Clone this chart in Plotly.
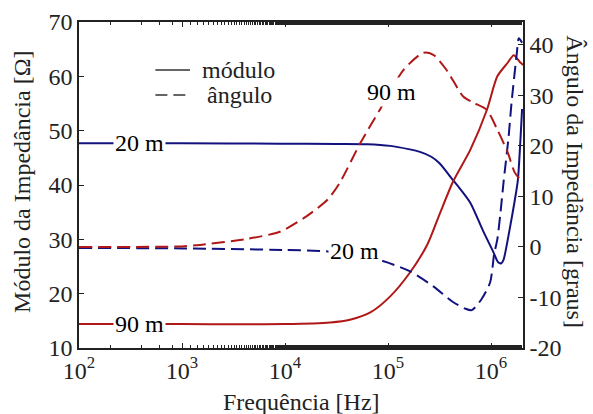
import plotly.graph_objects as go

# Impedance of the two cable lengths (20 m and 90 m) versus frequency

# 20 m cable, magnitude [ohm]
freq_mod_20 = [1e2, 1e3, 8.9e3, 3.16e4, 6.3e4, 1.05e5, 1.58e5, 2.04e5, 2.63e5, 3.16e5,
               4.27e5, 5.0e5, 6.3e5, 8.3e5, 1.05e6, 1.17e6, 1.26e6, 1.32e6, 1.51e6,
               1.70e6, 1.82e6, 1.95e6, 2.0e6]
mod_20 = [47.7, 47.7, 47.6, 47.55, 47.5, 47.2, 46.6, 46.1, 45.2, 44.0,
          40.9, 39.3, 36.7, 31.7, 27.7, 25.8, 25.6, 26.2, 31.7,
          37.2, 40.9, 50.0, 54.0]

# 90 m cable, magnitude [ohm]
freq_mod_90 = [1e2, 1e3, 1e4, 2.75e4, 4.27e4, 6.8e4, 1.05e5, 1.62e5, 2.4e5, 3.16e5,
               4.27e5, 6.3e5, 9.1e5, 1.15e6, 1.45e6, 1.66e6, 1.91e6, 2.05e6]
mod_90 = [14.4, 14.4, 14.4, 14.7, 15.2, 16.6, 19.5, 23.8, 29.0, 34.6,
          40.6, 46.5, 53.8, 60.0, 62.5, 63.9, 62.6, 62.1]

# 20 m cable, phase [degrees]
freq_ang_20 = [1e2, 1e3, 1e4, 2.6e4, 4.5e4, 8.9e4, 1.62e5, 2.75e5, 4.27e5, 5.6e5,
               6.5e5, 8.1e5, 9.8e5, 1.07e6, 1.15e6, 1.23e6, 1.32e6, 1.48e6, 1.58e6,
               1.78e6, 1.86e6, 2.0e6]
ang_20 = [-0.2, -0.3, -0.6, -0.9, -1.5, -2.8, -4.8, -7.8, -10.9, -12.2,
          -12.5, -10.3, -7.0, -1.5, 1.5, 6.5, 12.7, 21.8, 28.5,
          38.4, 41.3, 40.4]

# 90 m cable, phase [degrees]
freq_ang_90 = [1e2, 1e3, 1.5e3, 4.3e3, 8.9e3, 1.6e4, 2.6e4, 3.4e4, 5.4e4, 8.3e4,
               1.41e5, 2.19e5, 2.75e5, 3.7e5, 5.4e5, 6.8e5, 9.1e5, 1.15e6, 1.45e6,
               1.70e6, 2.0e6]
ang_90 = [0.0, 0.1, 0.4, 1.6, 3.0, 6.0, 9.4, 12.7, 20.6, 27.1,
          35.0, 38.4, 38.0, 35.0, 29.7, 28.5, 27.1, 23.2, 18.7,
          14.7, 12.9]

x_tick_vals = [1e2, 1e3, 1e4, 1e5, 1e6]
x_tick_text = ["10<sup>2</sup>", "10<sup>3</sup>", "10<sup>4</sup>", "10<sup>5</sup>", "10<sup>6</sup>"]
y_tick_vals = [10, 20, 30, 40, 50, 60, 70]
y2_tick_vals = [-20, -10, 0, 10, 20, 30, 40]
y2_tick_text = ["-20", "-10", "0", "10", "20", "30", "40"]

BLUE = "#12127f"
RED = "#b01818"
FONT = "Times New Roman"
FS = 24
DASH = "13px,6px"
INK = "#222"

fig = go.Figure()

fig.add_trace(go.Scatter(x=freq_mod_20, y=mod_20, mode="lines", showlegend=False,
                         line=dict(color=BLUE, width=2, shape="spline", smoothing=0.7)))
fig.add_trace(go.Scatter(x=freq_mod_90, y=mod_90, mode="lines", showlegend=False,
                         line=dict(color=RED, width=2, shape="spline", smoothing=0.7)))
fig.add_trace(go.Scatter(x=freq_ang_20, y=ang_20, mode="lines", showlegend=False, yaxis="y2",
                         line=dict(color=BLUE, width=2, dash=DASH, shape="spline", smoothing=0.7)))
fig.add_trace(go.Scatter(x=freq_ang_90, y=ang_90, mode="lines", showlegend=False, yaxis="y2",
                         line=dict(color=RED, width=2, dash=DASH, shape="spline", smoothing=0.7)))

# in-plot curve labels
annots = [
    dict(x=2.59, y=47.7, xref="x", yref="y", text="20 m"),
    dict(x=2.59, y=14.4, xref="x", yref="y", text="90 m"),
    dict(x=5.03, y=30.7, xref="x", yref="y2", text="90 m"),
    dict(x=4.67, y=-0.9, xref="x", yref="y2", text="20 m"),
]
annotations = []
for a in annots:
    annotations.append(dict(a, showarrow=False, bgcolor="white",
                            font=dict(family=FONT, size=FS, color="black")))

# axis titles
annotations.append(dict(x=-0.128, y=0.51, xref="paper", yref="paper", xanchor="center",
                        yanchor="middle", text="Módulo da Impedância [Ω]",
                        textangle=-90, showarrow=False, font=dict(family=FONT, size=FS, color=INK)))
annotations.append(dict(x=1.118, y=0.51, xref="paper", yref="paper", xanchor="center",
                        yanchor="middle", text="Ângulo da Impedância [graus]",
                        textangle=90, showarrow=False, font=dict(family=FONT, size=FS, color=INK)))
annotations.append(dict(x=0.5, y=-0.165, xref="paper", yref="paper", xanchor="center",
                        yanchor="middle", text="Frequência [Hz]",
                        showarrow=False, font=dict(family=FONT, size=FS, color=INK)))

# line-style key: solid = magnitude, dashed = phase
key_x0, key_x1 = 0.172, 0.25
key_rows = [(0.853, "módulo", "solid", 0.272), (0.776, "ângulo", "12px,6px", 0.283)]
shapes = []
for ky, label, dash, tx in key_rows:
    shapes.append(dict(type="line", xref="paper", yref="paper", x0=key_x0, x1=key_x1,
                       y0=ky, y1=ky, line=dict(color="#333", width=1.5, dash=dash)))
    annotations.append(dict(x=tx, y=ky, xref="paper", yref="paper", xanchor="left",
                            yanchor="middle", text=label, showarrow=False,
                            font=dict(family=FONT, size=FS, color=INK)))

fig.update_layout(
    width=593, height=414,
    margin=dict(l=79, r=70, t=22, b=66),
    paper_bgcolor="white", plot_bgcolor="white",
    font=dict(family=FONT, size=FS, color=INK),
    showlegend=False,
    annotations=annotations,
    shapes=shapes,
    xaxis=dict(type="log", range=[2, 6.31], tickvals=x_tick_vals, ticktext=x_tick_text,
               ticks="inside", ticklen=5, tickcolor=INK, showline=True, linecolor=INK,
               linewidth=1.5, mirror="ticks", showgrid=False, zeroline=False,
               automargin=False, tickfont=dict(family=FONT, size=FS),
               minor=dict(ticks="inside", ticklen=3, tickcolor=INK, showgrid=False)),
    yaxis=dict(range=[10, 70], tickvals=y_tick_vals, ticks="inside", ticklen=5,
               tickfont=dict(family=FONT, size=FS), automargin=False,
               tickcolor=INK, showline=True, linecolor=INK, linewidth=1.5,
               showgrid=False, zeroline=False),
    yaxis2=dict(range=[-20, 44.5], tickvals=y2_tick_vals, ticktext=y2_tick_text,
                tickfont=dict(family=FONT, size=FS), automargin=False,
                overlaying="y", side="right", ticks="inside", ticklen=5, tickcolor=INK,
                showline=True, linecolor=INK, linewidth=1.5, showgrid=False, zeroline=False),
)

fig.write_html("out.html")
